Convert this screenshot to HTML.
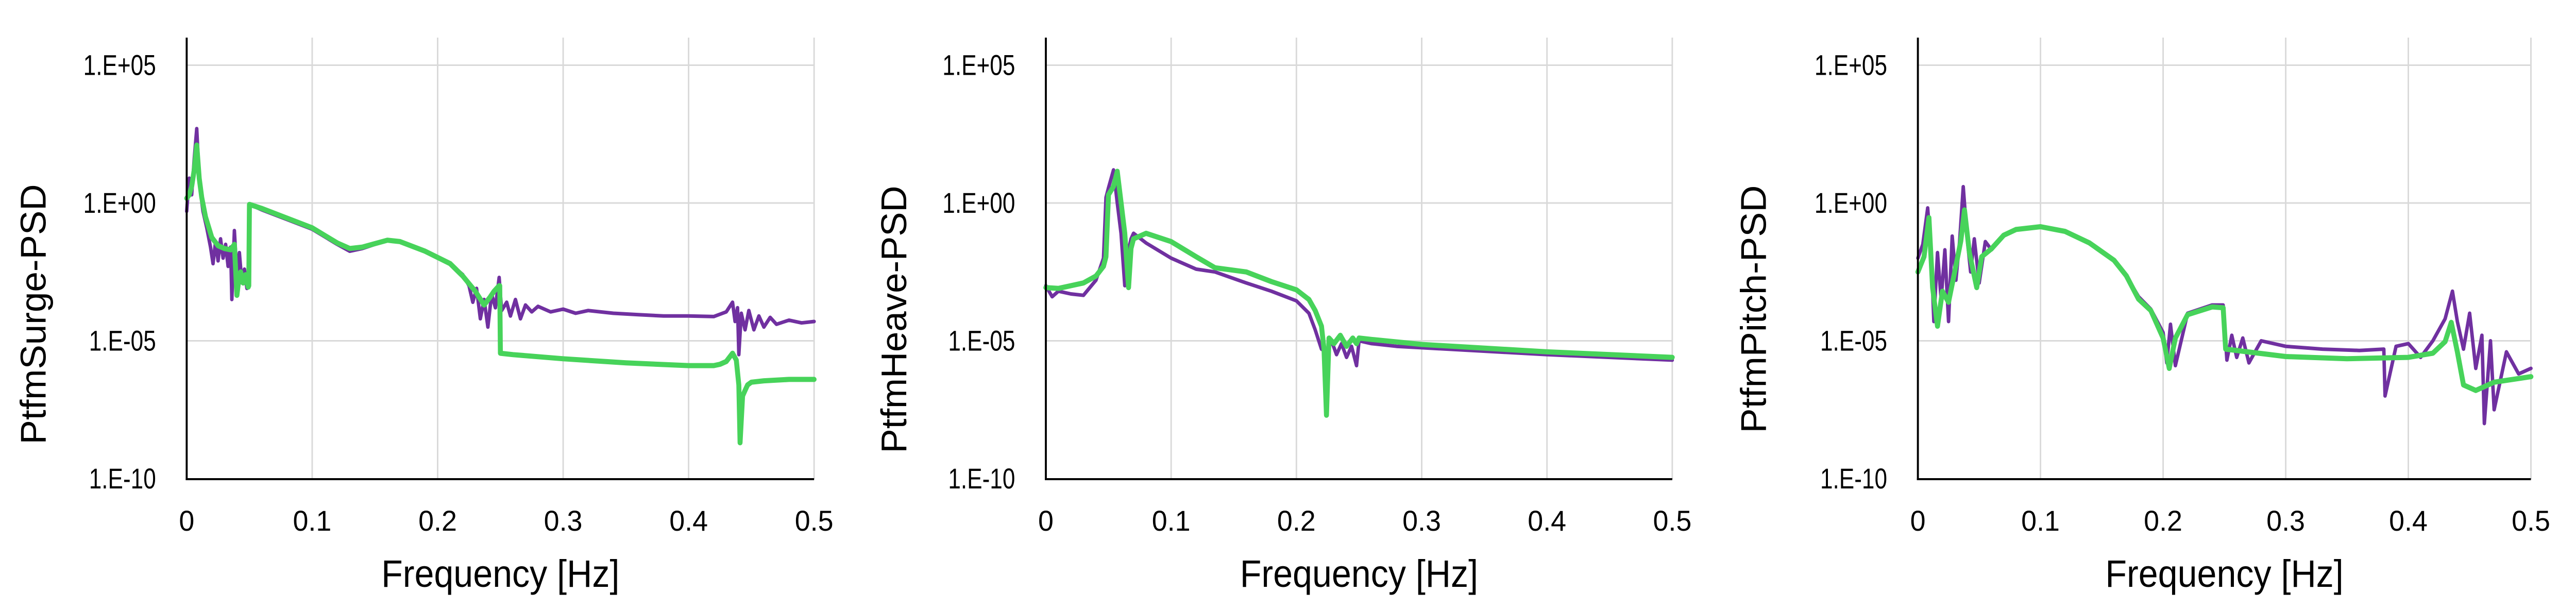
<!DOCTYPE html>
<html><head><meta charset="utf-8"><style>
html,body{margin:0;padding:0;background:#fff;width:100%;height:100%;overflow:hidden}
svg{display:block;width:100vw;height:100vh}
</style></head>
<body>
<svg id="fig" xmlns="http://www.w3.org/2000/svg" viewBox="0 0 5202 1182" preserveAspectRatio="none"></svg>
<script>
// ---- data (log10 of PSD) ----
const xTickLabels = ["0","0.1","0.2","0.3","0.4","0.5"];
const xTickValues = [0,0.1,0.2,0.3,0.4,0.5];
const yTickLabels = ["1.E+05","1.E+00","1.E-05","1.E-10"];
const yTickExps = [5,0,-5,-10];

const surgeGreenF = [0,0.002,0.004,0.006,0.008,0.01,0.012,0.015,0.02,0.025,0.03,0.035,0.038,0.04,0.042,0.043,0.045,0.047,0.049,0.0495,0.05,0.06,0.08,0.1,0.12,0.13,0.14,0.16,0.17,0.19,0.21,0.22,0.23,0.237,0.242,0.245,0.249,0.2495,0.25,0.26,0.3,0.35,0.4,0.42,0.425,0.43,0.435,0.438,0.44,0.441,0.443,0.445,0.447,0.45,0.46,0.48,0.5];
const surgeGreen = [0.17,0.3,0.6,1.2,2.1,0.9,0.2,-0.5,-1.25,-1.55,-1.65,-1.7,-1.5,-3.35,-2.6,-2.5,-2.9,-2.6,-3.05,-3.0,-0.05,-0.2,-0.55,-0.9,-1.45,-1.65,-1.6,-1.35,-1.4,-1.75,-2.2,-2.65,-3.2,-3.7,-3.4,-3.2,-3.0,-3.0,-5.45,-5.5,-5.65,-5.8,-5.9,-5.9,-5.85,-5.75,-5.45,-5.7,-6.6,-8.7,-7.0,-6.8,-6.6,-6.5,-6.45,-6.4,-6.4];
const surgePurpleF = [0,0.002,0.004,0.006,0.008,0.009,0.011,0.013,0.016,0.019,0.021,0.023,0.025,0.027,0.029,0.031,0.033,0.035,0.036,0.038,0.040,0.042,0.044,0.046,0.048,0.0495,0.05,0.06,0.08,0.1,0.12,0.13,0.14,0.16,0.17,0.19,0.21,0.22,0.225,0.228,0.231,0.234,0.237,0.24,0.243,0.246,0.249,0.251,0.255,0.258,0.262,0.266,0.27,0.275,0.28,0.29,0.3,0.31,0.32,0.34,0.36,0.38,0.4,0.42,0.43,0.435,0.437,0.439,0.44,0.442,0.445,0.448,0.452,0.456,0.46,0.465,0.47,0.48,0.49,0.5];
const surgePurple = [-0.3,0.9,0.3,1.6,2.7,1.8,0.4,-0.3,-0.9,-1.6,-2.2,-1.4,-2.1,-1.3,-2.0,-1.5,-2.3,-1.6,-3.5,-1.0,-2.6,-1.8,-2.9,-2.4,-3.1,-3.0,-0.05,-0.25,-0.6,-0.95,-1.5,-1.75,-1.65,-1.35,-1.38,-1.75,-2.2,-2.6,-3.0,-3.6,-3.1,-4.2,-3.5,-4.5,-3.3,-3.8,-2.7,-3.9,-3.6,-4.1,-3.5,-4.2,-3.7,-3.95,-3.75,-3.95,-3.85,-4.0,-3.9,-4.0,-4.05,-4.1,-4.1,-4.12,-3.95,-3.6,-4.3,-3.8,-5.5,-4.0,-4.6,-3.9,-4.6,-4.1,-4.5,-4.15,-4.4,-4.25,-4.35,-4.3];

const heaveGreenF = [0,0.01,0.02,0.03,0.04,0.046,0.048,0.05,0.054,0.057,0.06,0.063,0.066,0.068,0.07,0.08,0.1,0.12,0.135,0.16,0.18,0.2,0.21,0.215,0.22,0.222,0.224,0.226,0.23,0.235,0.24,0.245,0.248,0.25,0.26,0.3,0.4,0.5];
const heaveGreen = [-3.07,-3.1,-3.0,-2.9,-2.65,-2.3,-1.95,0.3,0.6,1.15,0.03,-1.1,-3.07,-1.65,-1.3,-1.1,-1.4,-1.95,-2.35,-2.5,-2.85,-3.15,-3.5,-3.9,-4.47,-5.3,-7.7,-4.9,-5.1,-4.8,-5.2,-4.9,-5.1,-4.9,-4.95,-5.13,-5.4,-5.6];
const heavePurpleF = [0,0.005,0.01,0.02,0.03,0.04,0.046,0.048,0.05,0.054,0.057,0.06,0.063,0.066,0.068,0.07,0.08,0.1,0.12,0.135,0.16,0.18,0.2,0.21,0.215,0.22,0.224,0.228,0.232,0.236,0.24,0.244,0.248,0.25,0.26,0.28,0.3,0.4,0.5];
const heavePurple = [-3.0,-3.4,-3.2,-3.3,-3.35,-2.8,-2.0,0.2,0.55,1.2,0.0,-1.1,-3.0,-1.7,-1.3,-1.1,-1.45,-2.0,-2.4,-2.5,-2.9,-3.2,-3.55,-4.0,-4.6,-5.3,-5.4,-5.0,-5.5,-5.1,-5.6,-5.2,-5.9,-5.0,-5.1,-5.2,-5.25,-5.5,-5.7];

const pitchGreenF = [0,0.005,0.009,0.012,0.016,0.02,0.025,0.03,0.035,0.038,0.042,0.048,0.052,0.06,0.07,0.08,0.1,0.12,0.14,0.16,0.17,0.18,0.19,0.2,0.205,0.21,0.22,0.24,0.249,0.251,0.3,0.35,0.4,0.42,0.43,0.435,0.44,0.445,0.455,0.47,0.5];
const pitchGreen = [-2.5,-1.95,-0.53,-3.07,-4.47,-3.2,-3.6,-2.5,-1.38,-0.25,-1.8,-3.07,-1.95,-1.66,-1.17,-0.96,-0.86,-1.03,-1.45,-2.08,-2.64,-3.49,-3.9,-4.9,-6.0,-4.9,-4.05,-3.77,-3.8,-5.3,-5.57,-5.65,-5.6,-5.45,-5.03,-4.33,-5.4,-6.6,-6.8,-6.5,-6.3];
const pitchPurpleF = [0,0.004,0.008,0.011,0.013,0.016,0.019,0.022,0.025,0.028,0.031,0.034,0.037,0.04,0.043,0.046,0.05,0.055,0.06,0.07,0.08,0.1,0.12,0.14,0.16,0.17,0.18,0.19,0.2,0.203,0.206,0.21,0.22,0.24,0.249,0.252,0.256,0.26,0.265,0.27,0.28,0.3,0.33,0.36,0.38,0.381,0.39,0.4,0.41,0.42,0.43,0.436,0.44,0.445,0.45,0.455,0.46,0.462,0.467,0.47,0.48,0.49,0.5];
const pitchPurple = [-2.0,-1.5,-0.18,-2.0,-4.3,-1.8,-3.5,-1.7,-4.3,-1.2,-2.8,-1.4,0.59,-1.2,-2.5,-1.3,-2.9,-1.4,-1.7,-1.2,-0.95,-0.86,-1.03,-1.45,-2.08,-2.64,-3.4,-3.85,-4.7,-5.8,-4.4,-5.9,-4.0,-3.7,-3.7,-5.7,-4.8,-5.6,-4.9,-5.8,-5.0,-5.2,-5.3,-5.35,-5.3,-7.0,-5.2,-5.1,-5.6,-5.0,-4.2,-3.2,-4.3,-5.3,-4.0,-6.0,-4.8,-8.0,-5.0,-7.5,-5.4,-6.2,-6.0];

const panels = [
  {name:"surge", title:"PtfmSurge-PSD", L:377, R:1644, labX:92, labY:610, labLen:505,
   gF:surgeGreenF, g:surgeGreen, pF:surgePurpleF, p:surgePurple},
  {name:"heave", title:"PtfmHeave-PSD", L:2112, R:3377, labX:1830, labY:620, labLen:519,
   gF:heaveGreenF, g:heaveGreen, pF:heavePurpleF, p:heavePurple},
  {name:"pitch", title:"PtfmPitch-PSD", L:3873, R:5111, labX:3566, labY:600, labLen:481,
   gF:pitchGreenF, g:pitchGreen, pF:pitchPurpleF, p:pitchPurple}
];

const NS = "http://www.w3.org/2000/svg";
const svg = document.getElementById("fig");
const TOP = 73, BOT = 930;
function yScale(e){ return 126.5 - (e - 5) * 53.5; }
function mk(tag, attrs, parent){
  const el = document.createElementNS(NS, tag);
  for (const k in attrs) el.setAttribute(k, attrs[k]);
  parent.appendChild(el);
  return el;
}

panels.forEach(function(P){
  const xScale = function(f){ return P.L + f / 0.5 * (P.R - P.L); };
  const g = mk("g", {}, svg);
  
  

  xTickValues.forEach(function(v){
    if (v === 0) return;
    const l = mk("line", {x1:xScale(v), x2:xScale(v), y1:TOP, y2:BOT, stroke:"#d9d9d9", "stroke-width":3}, g);
    
    
  });
  yTickExps.forEach(function(e){
    if (e === -10) return;
    const l = mk("line", {x1:P.L, x2:P.R, y1:yScale(e), y2:yScale(e), stroke:"#d9d9d9", "stroke-width":3}, g);
    
    
  });

  function path(F, V, color, w, nm){
    let d = "";
    F.forEach(function(f, i){ d += (i ? "L" : "M") + xScale(f).toFixed(1) + "," + yScale(V[i]).toFixed(1); });
    const p = mk("path", {d:d, fill:"none", stroke:color, "stroke-width":w, "stroke-linejoin":"round", "stroke-linecap":"round"}, g);
    
    
  }
  path(P.pF, P.p, "#7030a0", 7, P.name + '-purple-series');
  path(P.gF, P.g, "#47d35a", 10, P.name + '-green-series');

  const ay = mk("line", {x1:P.L, x2:P.L, y1:TOP, y2:BOT+2, stroke:"#000", "stroke-width":4}, g);
  
  
  const ax = mk("line", {x1:P.L-2, x2:P.R, y1:BOT, y2:BOT, stroke:"#000", "stroke-width":4}, g);
  
  

  yTickExps.forEach(function(e, i){
    const t = mk("text", {x:0, y:0, "font-size":56, "text-anchor":"end",
      "font-family":"Liberation Sans, sans-serif", fill:"#000",
      transform:"translate(" + (P.L - 62) + "," + (yScale(e) + 19) + ") scale(0.82,1)"}, g);
    t.textContent = yTickLabels[i];
    
    
  });
  xTickValues.forEach(function(v, i){
    const t = mk("text", {x:xScale(v), y:1030, "font-size":56, "text-anchor":"middle",
      "font-family":"Liberation Sans, sans-serif", fill:"#000"}, g);
    t.textContent = xTickLabels[i];
    
    
  });
  const xt = mk("text", {x:(P.L + P.R) / 2, y:1139, "font-size":74, "text-anchor":"middle",
    "font-family":"Liberation Sans, sans-serif", fill:"#000", textLength:481, lengthAdjust:"spacingAndGlyphs"}, g);
  xt.textContent = "Frequency [Hz]";
  
  
  const yt = mk("text", {x:0, y:0, "font-size":72, "text-anchor":"middle",
    "font-family":"Liberation Sans, sans-serif", fill:"#000", textLength:P.labLen, lengthAdjust:"spacingAndGlyphs",
    transform:"translate(" + P.labX + "," + P.labY + ") rotate(-90)"}, g);
  yt.textContent = P.title;
  
  
});
</script>
</body></html>
